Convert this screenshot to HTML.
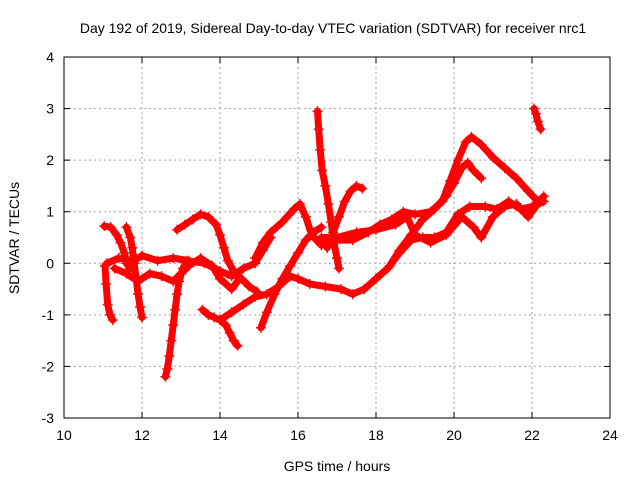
<!DOCTYPE html>
<html><head><meta charset="utf-8"><style>
body{margin:0;background:#fff}
svg{display:block;font-family:"Liberation Sans",sans-serif}
</style></head><body>
<svg id="chart" width="640" height="480">
<text x="333" y="33" text-anchor="middle" font-size="14">Day 192 of 2019, Sidereal Day-to-day VTEC variation (SDTVAR) for receiver nrc1</text>
<text x="337" y="471" text-anchor="middle" font-size="14">GPS time / hours</text>
<text transform="translate(19,238) rotate(-90)" text-anchor="middle" font-size="14">SDTVAR / TECUs</text>
<g id="grid"></g><g id="series"></g><g id="axes"></g>
</svg>
<script>
const xTicks=[10,12,14,16,18,20,22,24];
const yTicks=[-3,-2,-1,0,1,2,3,4];
const trackA=[[11.6,0.7],[11.7,0.5],[11.75,0.3],[11.8,0],[11.85,-0.3],[11.9,-0.6],[11.95,-0.85],[12.0,-1.05]];
const trackB=[[11.03,0.72],[11.2,0.7],[11.35,0.55],[11.45,0.4],[11.55,0.2],[11.6,0.0],[11.7,-0.1]];
const trackC=[[11.05,-0.05],[11.08,-0.4],[11.12,-0.8],[11.18,-1.0],[11.25,-1.1]];
const trackD=[[11.1,0.0],[11.4,0.1],[11.8,0.05],[12.0,0.15],[12.4,0.05],[12.8,0.1],[13.2,0.05],[13.6,0.0],[14.0,-0.15],[14.3,-0.25],[14.6,-0.1],[14.9,0.0],[15.1,0.25],[15.3,0.5]];
const trackE=[[11.3,-0.1],[11.6,-0.2],[11.9,-0.35],[12.2,-0.2],[12.5,-0.25],[12.8,-0.35],[13.0,-0.2],[13.2,-0.05],[13.5,0.1],[13.8,-0.05],[14.0,-0.3],[14.3,-0.5],[14.5,-0.3]];
const trackF=[[12.6,-2.2],[12.65,-2.05],[12.7,-1.8],[12.75,-1.5],[12.8,-1.2],[12.85,-0.9],[12.9,-0.6],[12.95,-0.35],[13.05,-0.1],[13.15,0.05]];
const trackG=[[12.9,0.65],[13.1,0.75],[13.3,0.85],[13.5,0.95],[13.7,0.9],[13.9,0.75],[14.0,0.55],[14.1,0.3],[14.2,0.05],[14.35,-0.15],[14.55,-0.3],[14.75,-0.45],[14.95,-0.55]];
const trackH=[[13.55,-0.9],[13.7,-1.0],[13.85,-1.05],[14.0,-1.1],[14.15,-1.2],[14.25,-1.35],[14.35,-1.5],[14.45,-1.6]];
const trackI=[[14.0,-1.1],[14.3,-0.95],[14.6,-0.8],[14.9,-0.65],[15.2,-0.6],[15.5,-0.45],[15.8,-0.25],[16.0,-0.3],[16.3,-0.4],[16.7,-0.45],[17.1,-0.5],[17.4,-0.6],[17.7,-0.5],[18.0,-0.3],[18.3,-0.1],[18.6,0.2],[18.9,0.45],[19.2,0.5],[19.5,0.5],[19.8,0.6],[20.1,0.95],[20.4,1.1],[20.8,1.1],[21.1,1.05],[21.4,1.2],[21.7,1.05],[22.0,1.1],[22.3,1.2]];
const trackJ=[[14.9,0.1],[15.1,0.4],[15.3,0.6],[15.6,0.8],[15.9,1.05],[16.05,1.15],[16.2,0.9],[16.35,0.55],[16.6,0.35],[17.0,0.45],[17.4,0.45],[17.8,0.6],[18.1,0.75],[18.4,0.85],[18.7,1.0],[19.0,0.95],[19.4,1.0],[19.7,1.2],[19.9,1.6],[20.1,2.0],[20.3,2.35],[20.45,2.45],[20.7,2.3],[21.0,2.05],[21.3,1.85],[21.6,1.65],[21.9,1.4],[22.15,1.2]];
const trackK=[[15.05,-1.25],[15.2,-0.95],[15.4,-0.6],[15.6,-0.3],[15.8,-0.05],[16.0,0.2],[16.2,0.45],[16.4,0.6],[16.6,0.7]];
const trackL=[[16.5,2.95],[16.53,2.6],[16.57,2.2],[16.62,1.8],[16.7,1.5],[16.78,1.15],[16.85,0.8],[16.92,0.4],[17.0,0.1],[17.05,-0.1]];
const trackM=[[16.75,0.3],[16.9,0.6],[17.05,0.9],[17.2,1.2],[17.35,1.4],[17.5,1.5],[17.65,1.45]];
const trackN=[[16.6,0.5],[17.0,0.5],[17.5,0.6],[18.0,0.65],[18.5,0.75],[18.8,0.9],[19.0,0.55],[19.4,0.4],[19.8,0.55],[20.2,0.9],[20.5,0.7],[20.7,0.5],[21.0,0.9],[21.3,1.1],[21.6,1.15],[21.9,0.9],[22.1,1.1],[22.3,1.3]];
const trackO=[[18.35,-0.05],[18.6,0.25],[18.9,0.55],[19.2,0.85],[19.5,1.05],[19.8,1.3],[20.0,1.55],[20.2,1.85],[20.35,1.95],[20.5,1.8],[20.7,1.65]];
const trackP=[[22.05,3.0],[22.1,2.9],[22.15,2.75],[22.22,2.6]];
const tracks=[trackA,trackB,trackC,trackD,trackE,trackF,trackG,trackH,trackI,trackJ,trackK,trackL,trackM,trackN,trackO,trackP];
const L=64,R=610,T=57,B=418;
const X=h=>L+(h-10)/(24-10)*(R-L);
const Y=v=>T+(4-v)/(4-(-3))*(B-T);
const NS="http://www.w3.org/2000/svg";
function mk(tag,attrs,parent){const e=document.createElementNS(NS,tag);for(const k in attrs)e.setAttribute(k,attrs[k]);parent.appendChild(e);return e;}
const grid=document.getElementById('grid'),axes=document.getElementById('axes'),ser=document.getElementById('series');
xTicks.forEach(t=>{
  if(t>10&&t<24){const g=mk('line',{x1:X(t),x2:X(t),y1:T,y2:B,stroke:'#a0a0a0','stroke-dasharray':'2,3'},grid);
  
  }
  const lb=mk('text',{x:X(t),y:B+22,'text-anchor':'middle','font-size':14},axes);lb.textContent=t;
  
  
  mk('line',{x1:X(t),x2:X(t),y1:B,y2:B-6,stroke:'#000'},axes);
  mk('line',{x1:X(t),x2:X(t),y1:T,y2:T+6,stroke:'#000'},axes);
});
yTicks.forEach(t=>{
  if(t>-3&&t<4){const g=mk('line',{x1:L,x2:R,y1:Y(t),y2:Y(t),stroke:'#a0a0a0','stroke-dasharray':'2,3'},grid);
  
  }
  const lb=mk('text',{x:L-10,y:Y(t)+5,'text-anchor':'end','font-size':14},axes);lb.textContent=t;
  
  
  mk('line',{x1:L,x2:L+6,y1:Y(t),y2:Y(t),stroke:'#000'},axes);
  mk('line',{x1:R,x2:R-6,y1:Y(t),y2:Y(t),stroke:'#000'},axes);
});
const fr=mk('rect',{x:L,y:T,width:R-L,height:B-T,fill:'none',stroke:'#000'},axes);


tracks.forEach(tr=>{
  const pl=mk('polyline',{points:tr.map(p=>X(p[0])+','+Y(p[1])).join(' '),fill:'none',stroke:'#f00','stroke-width':7,'stroke-linejoin':'round','stroke-linecap':'round'},ser);
  
  
  tr.forEach(p=>{
    const x=X(p[0]),y=Y(p[1]);
    const m=mk('path',{d:`M${x-5},${y}H${x+5}M${x},${y-5}V${y+5}`,stroke:'#f00','stroke-width':1.4},ser);
    
    
  });
});
</script>
</body></html>
